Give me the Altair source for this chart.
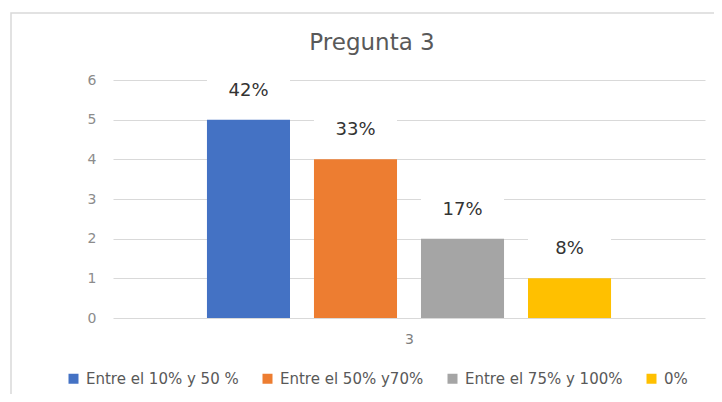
import altair as alt
import pandas as pd

# ---- data ----
categories = ["Entre el 10% y 50 %", "Entre el 50% y70%", "Entre el 75% y 100%", "0%"]
counts = [5, 4, 2, 1]
pct_labels = ["42%", "33%", "17%", "8%"]
colors = ["#4472C4", "#ED7D31", "#A5A5A5", "#FFC000"]
question = "3"
y_ticks = [0, 1, 2, 3, 4, 5, 6]

df = pd.DataFrame({"cat": categories, "n": counts, "lbl": pct_labels})

FONT = "DejaVu Sans"
GRID = "#d9d9d9"
TXT = "#595959"

x_enc = alt.X(
    "cat:N",
    sort=categories,
    scale=alt.Scale(paddingInner=0.224, paddingOuter=0.878),
    axis=alt.Axis(labels=False, ticks=False, domain=False, title=question,
                  titleFont=FONT, titleFontSize=14, titleFontWeight="normal",
                  titleColor="#7f7f7f", titlePadding=14),
)
y_axis = alt.Axis(values=y_ticks, grid=True, gridColor=GRID, gridWidth=1.2,
                  domain=False, ticks=False, title=None, labelPadding=17,
                  labelFont=FONT, labelFontSize=14, labelColor="#8c8c8c")
y_scale = alt.Scale(domain=[0, 6], nice=False)

base = alt.Chart(df)

bars = base.mark_bar().encode(
    x=x_enc,
    y=alt.Y("n:Q", scale=y_scale, axis=y_axis),
    color=alt.Color(
        "cat:N", sort=categories,
        scale=alt.Scale(domain=categories, range=colors),
        legend=alt.Legend(
            title=None, orient="none", legendX=-47, legendY=291,
            direction="horizontal", columns=4, symbolType="square",
            symbolSize=100, symbolStrokeWidth=0, labelFont=FONT,
            labelFontSize=15, labelColor=TXT, labelOffset=5, columnPadding=21,
        ),
    ),
)

# white label boxes (Excel data-label background hides gridlines)
boxes = base.transform_calculate(
    lo="datum.n + 0.43", hi="datum.n + 1.13"
).mark_bar(color="white").encode(
    x=x_enc,
    y=alt.Y("lo:Q", scale=y_scale, axis=y_axis),
    y2="hi:Q",
)

labels = base.mark_text(font=FONT, fontSize=18, color="#333333",
                        baseline="middle", dy=-29).encode(
    x=x_enc,
    y=alt.Y("n:Q", scale=y_scale, axis=y_axis),
    text="lbl:N",
)

frame = alt.Chart(pd.DataFrame({"a": [0]})).mark_rect(
    fillOpacity=0, stroke=GRID, strokeWidth=1.5
).encode(x=alt.value(-102), x2=alt.value(640), y=alt.value(-67), y2=alt.value(340))

chart = alt.layer(frame, bars, boxes, labels).properties(
    width=592,
    height=238,
    title=alt.TitleParams("Pregunta 3", font=FONT, fontSize=23, fontWeight="normal",
                          color=TXT, anchor="middle", dx=-37, dy=47),
    autosize=alt.AutoSizeParams(type="none"),
    padding={"left": 105, "top": 72, "right": 9, "bottom": 76},
).configure_view(stroke=None)

chart.save("out.html", embed_options={"renderer": "svg", "actions": False})
